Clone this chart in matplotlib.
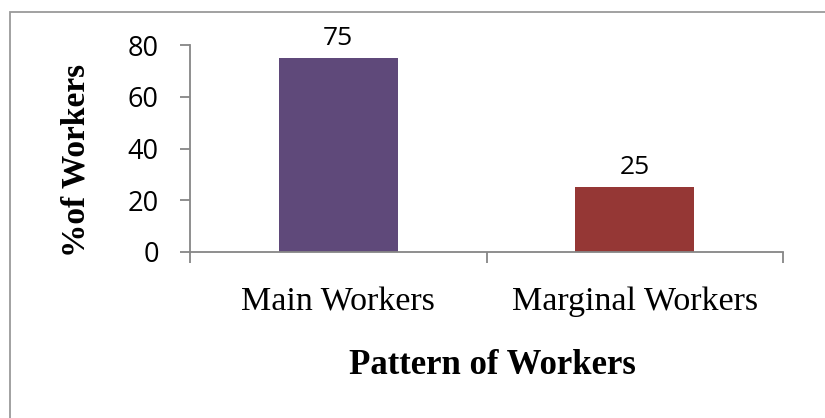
import matplotlib
matplotlib.use("Agg")
import matplotlib.pyplot as plt
from matplotlib.patches import Rectangle

categories = ["Main Workers", "Marginal Workers"]
values = [75, 25]
colors = ["#5F497A", "#953735"]
yticks = [0, 20, 40, 60, 80]

W, H = 825, 418
fig = plt.figure(figsize=(W / 100, H / 100), dpi=100)
ax = fig.add_axes([190 / W, 1 - 252 / H, (783 - 190) / W, (252 - 45) / H])

x = list(range(len(categories)))
bars = ax.bar(x, values, width=0.4, color=colors, zorder=2)
ax.set_xlim(-0.5, len(categories) - 0.5)
ax.set_ylim(0, 80)
ax.set_yticks(yticks)
ax.set_yticklabels([str(t) for t in yticks], fontsize=19.5, family="Open Sans")

gray = "#868686"
for s in ["top", "right"]:
    ax.spines[s].set_visible(False)
for s in ["left", "bottom"]:
    ax.spines[s].set_color(gray)
    ax.spines[s].set_linewidth(1.3)
ax.tick_params(axis="y", length=7.5, width=1.3, color=gray, pad=15)
# category boundary ticks on x
ax.set_xticks([-0.5, 0.5, 1.5])
ax.set_xticklabels(["", "", ""])
ax.tick_params(axis="x", length=8, width=1.3, color=gray)
for i, c in enumerate(categories):
    ax.annotate(c, xy=(i, 0), xycoords="data", xytext=(0, -50),
                textcoords="offset pixels", ha="center", va="center",
                fontsize=24.5, family="Liberation Serif")

for i, v in enumerate(values):
    ax.annotate(str(v), xy=(i, v), xytext=(0, 5), textcoords="offset points",
                ha="center", va="bottom", fontsize=19, family="Open Sans")

fig.text(492 / W, 1 - 365 / H, "Pattern of Workers", ha="center", va="center",
         fontsize=25, fontweight="bold", family="Liberation Serif")
fig.text(76 / W, 1 - 160 / H, "%of Workers", ha="center", va="center",
         rotation=90, fontsize=24, fontweight="bold", family="Liberation Serif")

fig.patches.append(Rectangle((10 / W, -0.05), 1.1, 1 - 12 / H + 0.05,
                             transform=fig.transFigure, fill=False,
                             edgecolor="#9a9a9a", linewidth=1.3, clip_on=False))
fig.savefig("out.png", dpi=100)
